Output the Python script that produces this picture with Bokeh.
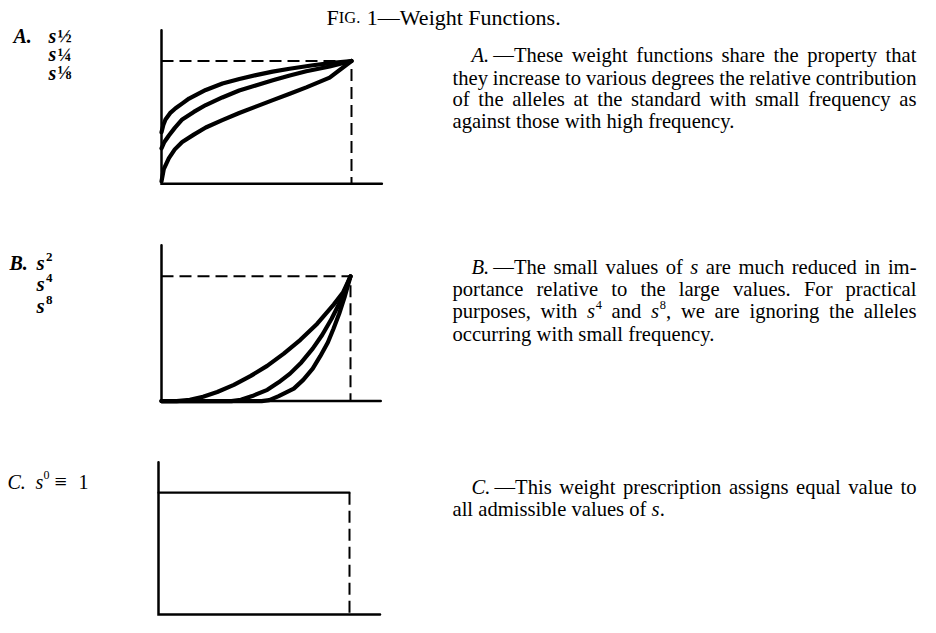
from bokeh.plotting import figure
from bokeh.models import Range1d, ColumnDataSource
from bokeh.core.properties import value, field
from bokeh.embed import file_html
from bokeh.resources import INLINE

# ---------------------------------------------------------------- data
TITLE_CAP = "F"
TITLE_SMALLCAPS = "IG."
TITLE_REST = "1\u2014Weight Functions."

# Panel A: weight functions s^(1/8), s^(1/4), s^(1/2)
A_S18_X = [0, 0.01, 0.021, 0.045, 0.074, 0.11, 0.145, 0.19, 0.233, 0.321, 0.41, 0.497, 0.585, 0.674, 0.797, 0.9, 1.0]
A_S18_Y = [0.42, 0.48, 0.524, 0.575, 0.615, 0.655, 0.694, 0.73, 0.764, 0.817, 0.853, 0.885, 0.913, 0.937, 0.965, 0.985, 1.0]
A_S14_X = [0, 0.015, 0.039, 0.07, 0.109, 0.17, 0.233, 0.32, 0.409, 0.5, 0.586, 0.675, 0.762, 0.885, 1.0]
A_S14_Y = [0.288, 0.34, 0.393, 0.455, 0.524, 0.585, 0.641, 0.703, 0.759, 0.803, 0.843, 0.882, 0.916, 0.955, 1.0]
A_S12_X = [0, 0.012, 0.039, 0.07, 0.109, 0.17, 0.233, 0.32, 0.409, 0.5, 0.586, 0.675, 0.762, 0.885, 1.0]
A_S12_Y = [0.02, 0.12, 0.209, 0.28, 0.34, 0.40, 0.458, 0.518, 0.576, 0.63, 0.681, 0.733, 0.785, 0.864, 1.0]

# Panel B: s^2, s^4, s^8
B_P2_X = [0, 0.08, 0.15, 0.22, 0.295, 0.383, 0.47, 0.559, 0.647, 0.735, 0.824, 0.912, 0.96, 1.0]
B_P2_Y = [0, 0.0, 0.01, 0.035, 0.073, 0.13, 0.2, 0.282, 0.38, 0.491, 0.62, 0.775, 0.87, 1.0]
B_P4_X = [0, 0.37, 0.42, 0.48, 0.56, 0.62, 0.68, 0.74, 0.80, 0.85, 0.90, 0.95, 1.0]
B_P4_Y = [0, 0.0, 0.01, 0.04, 0.09, 0.15, 0.22, 0.31, 0.42, 0.53, 0.66, 0.81, 1.0]
B_P8_X = [0, 0.53, 0.57, 0.62, 0.70, 0.75, 0.80, 0.84, 0.88, 0.91, 0.94, 0.97, 1.0]
B_P8_Y = [0, 0.0, 0.008, 0.04, 0.10, 0.17, 0.26, 0.36, 0.47, 0.58, 0.70, 0.84, 1.0]

# Panel C: s^0 = 1
C_S0_X = [0, 1.0]
C_S0_Y = [1.0, 1.0]

S_MAX = 1.0          # admissible values of s end here
W_MAX = 1.0          # maximal weight
AXIS_TOP = 1.25      # extent of the drawn axes (in units of W_MAX / S_MAX)
AXIS_RIGHT = 1.16

A_FRACTIONS = ["\u00bd", "\u00bc", "\u215b"]
B_EXPONENTS = ["2", "4", "8"]

PARA_A = [
    "_A._~\u2014These weight functions share the property that",
    "they increase to various degrees the relative contribution",
    "of the alleles at the standard with small frequency as",
    "against those with high frequency.",
]
PARA_B = [
    "_B._~\u2014The small values of _s_ are much reduced in im-",
    "portance relative to the large values. For practical",
    "purposes, with _s_^4 and _s_^8, we are ignoring the alleles",
    "occurring with small frequency.",
]
PARA_C = [
    "_C._~\u2014This weight prescription assigns equal value to",
    "all admissible values of _s_.",
]

# ---------------------------------------------------------------- layout
W, H = 920, 617
K = 0.9745
FONT = "Liberation Serif"


def cx(X):
    return X


def cy(Y):
    return 2 + (Y - 2) * K


p = figure(width=W, height=H, x_range=Range1d(0, W), y_range=Range1d(H, 0),
           output_backend="svg", toolbar_location=None, min_border=0,
           x_axis_location=None, y_axis_location=None,
           outline_line_color=None, background_fill_color="white",
           border_fill_color="white")
p.grid.grid_line_color = None

PANELS = {
    "A": dict(x0=161, x1=351, y0=188, y1=62),
    "B": dict(x0=161, x1=350, y0=411, y1=283),
    "C": dict(x0=158, x1=349, y0=630, y1=505),
}
xr, yr = {}, {}
for name, g in PANELS.items():
    c0, c1 = cx(g["x0"]), cx(g["x1"])
    r0, r1 = cy(g["y0"]), cy(g["y1"])
    sx, sy = c1 - c0, r0 - r1
    xr[name] = Range1d(start=-c0 / sx, end=(W - c0) / sx)
    yr[name] = Range1d(start=(r0 - H) / sy, end=r0 / sy)
p.extra_x_ranges = xr
p.extra_y_ranges = yr


def pline(panel, xs, ys, width, dash="solid", join="round"):
    p.line(xs, ys, x_range_name=panel, y_range_name=panel, line_color="black",
           line_width=width, line_dash=dash, line_cap="round" if dash == "solid" else "butt",
           line_join=join)


for name in PANELS:
    pline(name, [0, 0, AXIS_RIGHT * S_MAX], [AXIS_TOP * W_MAX, 0, 0], 2.5, join="miter")

# Panel A
pline("A", [0, S_MAX, S_MAX], [W_MAX, W_MAX, 0], 2, dash="12 6")
pline("A", A_S18_X, A_S18_Y, 4.2)
pline("A", A_S14_X, A_S14_Y, 4.2)
pline("A", A_S12_X, A_S12_Y, 4.2)
# Panel B
pline("B", [0, S_MAX, S_MAX], [W_MAX, W_MAX, 0], 2, dash="12 6")
pline("B", B_P2_X, B_P2_Y, 4.2)
pline("B", B_P4_X, B_P4_Y, 4.2)
pline("B", B_P8_X, B_P8_Y, 4.2)
# Panel C
pline("C", [S_MAX, S_MAX], [W_MAX, 0], 2, dash="12 6")
pline("C", C_S0_X, C_S0_Y, 2.2)

# ---------------------------------------------------------------- text
WID = {' ': 250, '.': 250, ',': 250, '-': 333, '\u2014': 1000,
       'a': 444, 'b': 500, 'c': 444, 'd': 500, 'e': 444, 'f': 333, 'g': 500, 'h': 500,
       'i': 278, 'j': 278, 'k': 500, 'l': 278, 'm': 778, 'n': 500, 'o': 500, 'p': 500,
       'q': 500, 'r': 333, 's': 389, 't': 278, 'u': 500, 'v': 500, 'w': 722, 'x': 500,
       'y': 500, 'z': 444, 'A': 722, 'B': 667, 'C': 667, 'F': 556, 'G': 722, 'I': 333,
       'T': 611, 'W': 944}
ITAL = {'A': 611, 'B': 611, 'C': 667, 's': 389, '.': 250}


def twidth(t, size, italic=False):
    tot = 0
    for c in t:
        tot += ITAL[c] if (italic and c in ITAL) else WID.get(c, 500)
    return tot * size / 1000.0


rows = dict(x=[], y=[], text=[], style=[], size=[])


def put(X, Y, text, style, size):
    rows["x"].append(cx(X))
    rows["y"].append(cy(Y))
    rows["text"].append(text)
    rows["style"].append(style)
    rows["size"].append("%.1fpx" % size)


def layout_word(word, size):
    pieces = []
    state = dict(x=0.0, buf="", italic=False)

    def flush():
        if state["buf"]:
            st = "italic" if state["italic"] else "normal"
            pieces.append((state["x"], 0.0, state["buf"], st, size))
            state["x"] += twidth(state["buf"], size, state["italic"])
            state["buf"] = ""

    i = 0
    while i < len(word):
        c = word[i]
        if c == "_":
            flush()
            state["italic"] = not state["italic"]
        elif c == "~":
            flush()
            state["x"] += 0.2 * size
        elif c == "^":
            flush()
            ss = size * 0.6
            pieces.append((state["x"] + 0.8, -0.32 * size, word[i + 1], "normal", ss))
            state["x"] += twidth(word[i + 1], ss) + 0.8
            i += 1
        else:
            state["buf"] += c
        i += 1
    flush()
    return pieces, state["x"]


def paragraph(lines, left_first, left, right, baselines, size):
    for i, line in enumerate(lines):
        x0 = left_first if i == 0 else left
        words = line.split(" ")
        laid = [layout_word(w, size) for w in words]
        total = sum(wd for _, wd in laid)
        last = i == len(lines) - 1
        if last or len(words) == 1:
            gap = 0.25 * size
        else:
            gap = (right - x0 - total) / (len(words) - 1)
        x = x0
        for pieces, wd in laid:
            for dx, dy, t, st, fs in pieces:
                put(x + dx, baselines[i] + dy, t, st, fs)
            x += wd + gap


BODY = 20.6
paragraph(PARA_A, 471, 452, 916, [56, 79, 101, 124], BODY)
paragraph(PARA_B, 471, 452, 916, [273, 296, 319, 342], BODY)
paragraph(PARA_C, 471, 452, 916, [499, 522], BODY)

# title  (FIG. in small capitals)
TS = 22
tx = 326
put(tx, 17, TITLE_CAP, "normal", TS)
tx += twidth(TITLE_CAP, TS)
put(tx, 17, TITLE_SMALLCAPS, "normal", TS * 0.75)
tx += twidth(TITLE_SMALLCAPS, TS * 0.75) + 0.3 * TS
put(tx, 17, TITLE_REST, "normal", TS)

# left-hand labels
LS = 20
put(13, 36, "A.", "bold italic", LS)
for frac, base in zip(A_FRACTIONS, [36, 55, 74]):
    put(48, base, "s", "bold italic", LS)
    put(57, base, frac, "bold", 19)

put(9, 269, "B.", "bold italic", LS)
for ex, base in zip(B_EXPONENTS, [269, 291, 313]):
    put(36, base, "s", "bold italic", 21)
    put(45.5, base - 6, ex, "bold", 13)

put(7, 494, "C.", "italic", LS)
put(35, 494, "s", "italic", LS)
put(43, 487, "0", "normal", 12)
put(54, 494, "\u2261", "normal", 22)
put(78, 494, "1", "normal", LS)

p.text(x="x", y="y", text="text", source=ColumnDataSource(rows),
       text_font=value(FONT), text_font_size=field("size"),
       text_font_style=field("style"), text_color="black",
       text_baseline="alphabetic", text_align="left")

open("out.html", "w").write(file_html(p, INLINE))
